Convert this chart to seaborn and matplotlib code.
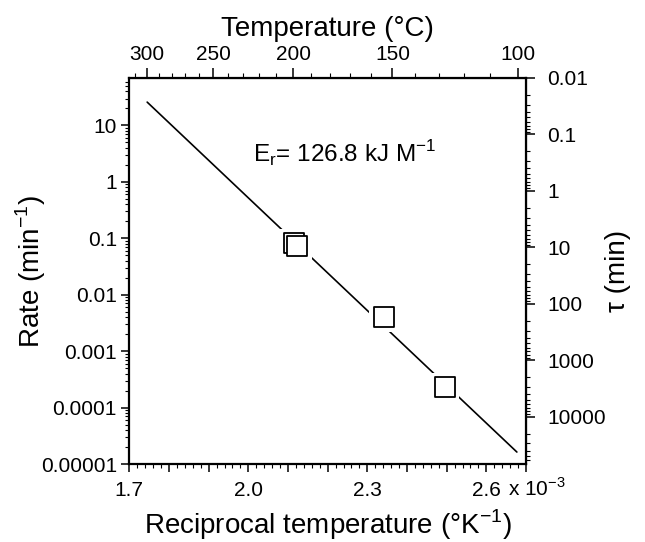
import numpy as np
import seaborn as sns
import matplotlib.pyplot as plt
from matplotlib.ticker import FixedLocator, MultipleLocator, LogLocator, FuncFormatter, NullFormatter

# measured points: reciprocal temperature (x 10^-3 K^-1) and rate (min^-1)
recip_temp = [2.115, 2.123, 2.342, 2.495]
rate = [0.0813, 0.0728, 0.00395, 0.000229]

# Arrhenius fit, Er = 126.8 kJ, drawn from 300 C to 100 C
fit_recip_temp = [1.745, 2.677]
fit_rate = [25.9, 1.63e-5]

x_major = [1.7, 1.8, 1.9, 2.0, 2.1, 2.2, 2.3, 2.4, 2.5, 2.6, 2.7]
x_labeled = ['1.7', '2.0', '2.3', '2.6']
rate_ticks = [1e-5, 1e-4, 1e-3, 1e-2, 1e-1, 1, 10]
tau_ticks = [0.01, 0.1, 1, 10, 100, 1000, 10000]
temp_ticks = [300, 250, 200, 150, 100]

LN2 = np.log(2)


def rate_to_tau(r):
    with np.errstate(divide='ignore', invalid='ignore'):
        return LN2 / np.asarray(r, dtype=float)


def recip_to_celsius(x):
    with np.errstate(divide='ignore', invalid='ignore'):
        return 1000.0 / np.asarray(x, dtype=float) - 273.15


def celsius_to_recip(t):
    with np.errstate(divide='ignore', invalid='ignore'):
        return 1000.0 / (np.asarray(t, dtype=float) + 273.15)


def plain(v, pos=None):
    return np.format_float_positional(v, trim='-')


sns.set_style('ticks')
plt.rcParams['font.family'] = ['Liberation Sans', 'DejaVu Sans']
plt.rcParams['mathtext.fontset'] = 'custom'
plt.rcParams['mathtext.rm'] = 'Liberation Sans'
plt.rcParams.update({'text.color': 'black', 'axes.labelcolor': 'black',
                     'xtick.color': 'black', 'ytick.color': 'black',
                     'axes.edgecolor': 'black'})

fig = plt.figure(figsize=(6.45, 5.42), dpi=100)
ax = fig.add_axes([0.2005, 0.1439, 0.615, 0.7122])
ax.set_yscale('log')

sns.lineplot(x=fit_recip_temp, y=fit_rate, color='black', linewidth=1.2, ax=ax, zorder=2)
# white halo so the fit line breaks around each square
sns.scatterplot(x=recip_temp, y=rate, marker='s', s=21 ** 2, color='white',
                edgecolor='none', linewidth=0, ax=ax, zorder=3)
sns.scatterplot(x=recip_temp, y=rate, marker='s', s=14 ** 2, color='white',
                edgecolor='black', linewidth=1.3, ax=ax, zorder=4)

ax.set_xlim(1.7, 2.7)
ax.set_ylim(1e-5, LN2 / 0.01)

ax.xaxis.set_major_locator(FixedLocator(x_major))
ax.xaxis.set_major_formatter(FuncFormatter(
    lambda v, pos: ('%.1f' % v) if ('%.1f' % v) in x_labeled else ''))
ax.xaxis.set_minor_locator(MultipleLocator(0.02))
ax.yaxis.set_major_locator(FixedLocator(rate_ticks))
ax.yaxis.set_major_formatter(FuncFormatter(plain))
ax.yaxis.set_minor_locator(LogLocator(base=10, subs=np.arange(2, 10), numticks=100))
ax.yaxis.set_minor_formatter(NullFormatter())

ax.tick_params(which='major', direction='out', length=6, width=1.1, labelsize=15, colors='black')
ax.tick_params(which='minor', direction='out', length=3, width=0.8)
ax.tick_params(axis='x', which='major', pad=6)
ax.tick_params(axis='y', which='major', pad=3)
for s in ax.spines.values():
    s.set_linewidth(1.6)
    s.set_color('black')
    s.set_visible(True)

ax.set_xlabel('Reciprocal temperature (°K$^{-1}$)', fontsize=20)
ax.xaxis.set_label_coords(0.5, -0.112)
ax.set_ylabel('Rate (min$^{-1}$)', fontsize=20)
ax.yaxis.set_label_coords(-0.205, 0.5)
ax.text(2.654, -0.083, 'x 10$^{-3}$', transform=ax.get_xaxis_transform(),
        fontsize=15, ha='left', va='baseline')

ax.text(2.012, 2.19, r'E$_\mathregular{r}$= 126.8 kJ M$^\mathregular{-1}$',
        fontsize=17.5, ha='left', va='baseline')

# top axis: temperature in C
top = ax.secondary_xaxis('top', functions=(recip_to_celsius, celsius_to_recip))
top.xaxis.set_major_locator(FixedLocator(temp_ticks))
top.xaxis.set_major_formatter(FuncFormatter(lambda v, pos: '%d' % round(v)))
top.xaxis.set_minor_locator(MultipleLocator(10))
top.tick_params(which='major', direction='out', length=7, width=1.1, labelsize=15, pad=3)
top.tick_params(which='minor', direction='out', length=3.5, width=0.8)
top.set_xlabel('Temperature (°C)', fontsize=20)
top.xaxis.set_label_coords(0.5, 1.108, transform=ax.transAxes)

# right axis: half-life tau = ln2 / rate
right = ax.secondary_yaxis('right', functions=(rate_to_tau, rate_to_tau))
right.yaxis.set_major_locator(FixedLocator(tau_ticks))
right.yaxis.set_major_formatter(FuncFormatter(plain))
right.yaxis.set_minor_locator(LogLocator(base=10, subs=np.arange(2, 10), numticks=100))
right.yaxis.set_minor_formatter(NullFormatter())
right.tick_params(which='major', direction='out', length=6.5, width=1.1, labelsize=15, pad=9)
right.tick_params(which='minor', direction='out', length=3, width=0.8)
right.set_ylabel('τ (min)', fontsize=20)
right.yaxis.set_label_coords(1.2, 0.5, transform=ax.transAxes)

fig.savefig('out.png', dpi=100)
